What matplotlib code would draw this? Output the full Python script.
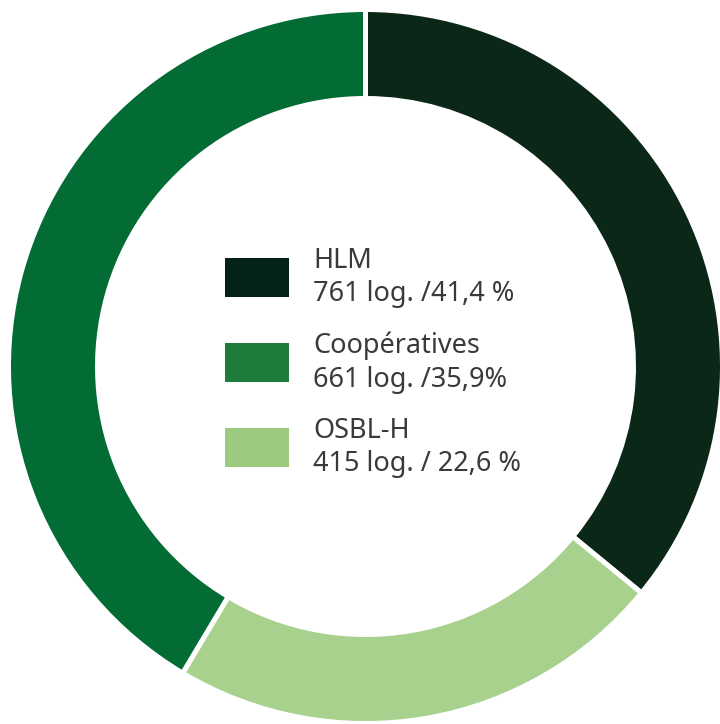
import matplotlib
matplotlib.use("Agg")
import matplotlib.pyplot as plt
from matplotlib.patches import Rectangle

# Ring slices, clockwise from 12 o'clock (as drawn)
ring_shares = [35.9, 22.6, 41.4]
ring_colors = ["#0b2718", "#a9d18e", "#036b34"]

# Legend
legend_names = ["HLM", "Coopératives", "OSBL-H"]
legend_values = ["761 log. /41,4 %", "661 log. /35,9%", "415 log. / 22,6 %"]
legend_colors = ["#04221a", "#1d7c3b", "#9ccb80"]

W, H = 720, 724
fig = plt.figure(figsize=(W / 100, H / 100), dpi=100)
ax = fig.add_axes([0, 0, 1, 1])

cx, cy = 365.5, H - 366.5
ax.pie(ring_shares, colors=ring_colors, radius=357, center=(cx, cy),
       startangle=90, counterclock=False,
       wedgeprops=dict(width=89, edgecolor="white", linewidth=3.6))

ax.set_xlim(0, W)
ax.set_ylim(0, H)
ax.set_aspect("equal")
ax.axis("off")

sw_x, sw_w, sw_h = 225, 64, 39
sw_tops = [258, 343, 428]
name_base = [268, 353, 438]
val_base = [301, 387, 471]
for i in range(3):
    ax.add_patch(Rectangle((sw_x, H - sw_tops[i] - sw_h), sw_w, sw_h,
                           facecolor=legend_colors[i], edgecolor="none"))
    ax.text(313, H - name_base[i], legend_names[i], fontsize=19.5,
            family="Noto Sans", color="#3a3a3a", va="baseline", ha="left")
    ax.text(313, H - val_base[i], legend_values[i], fontsize=19.5,
            family="Noto Sans", color="#3a3a3a", va="baseline", ha="left")

fig.savefig("out.png", dpi=100)
